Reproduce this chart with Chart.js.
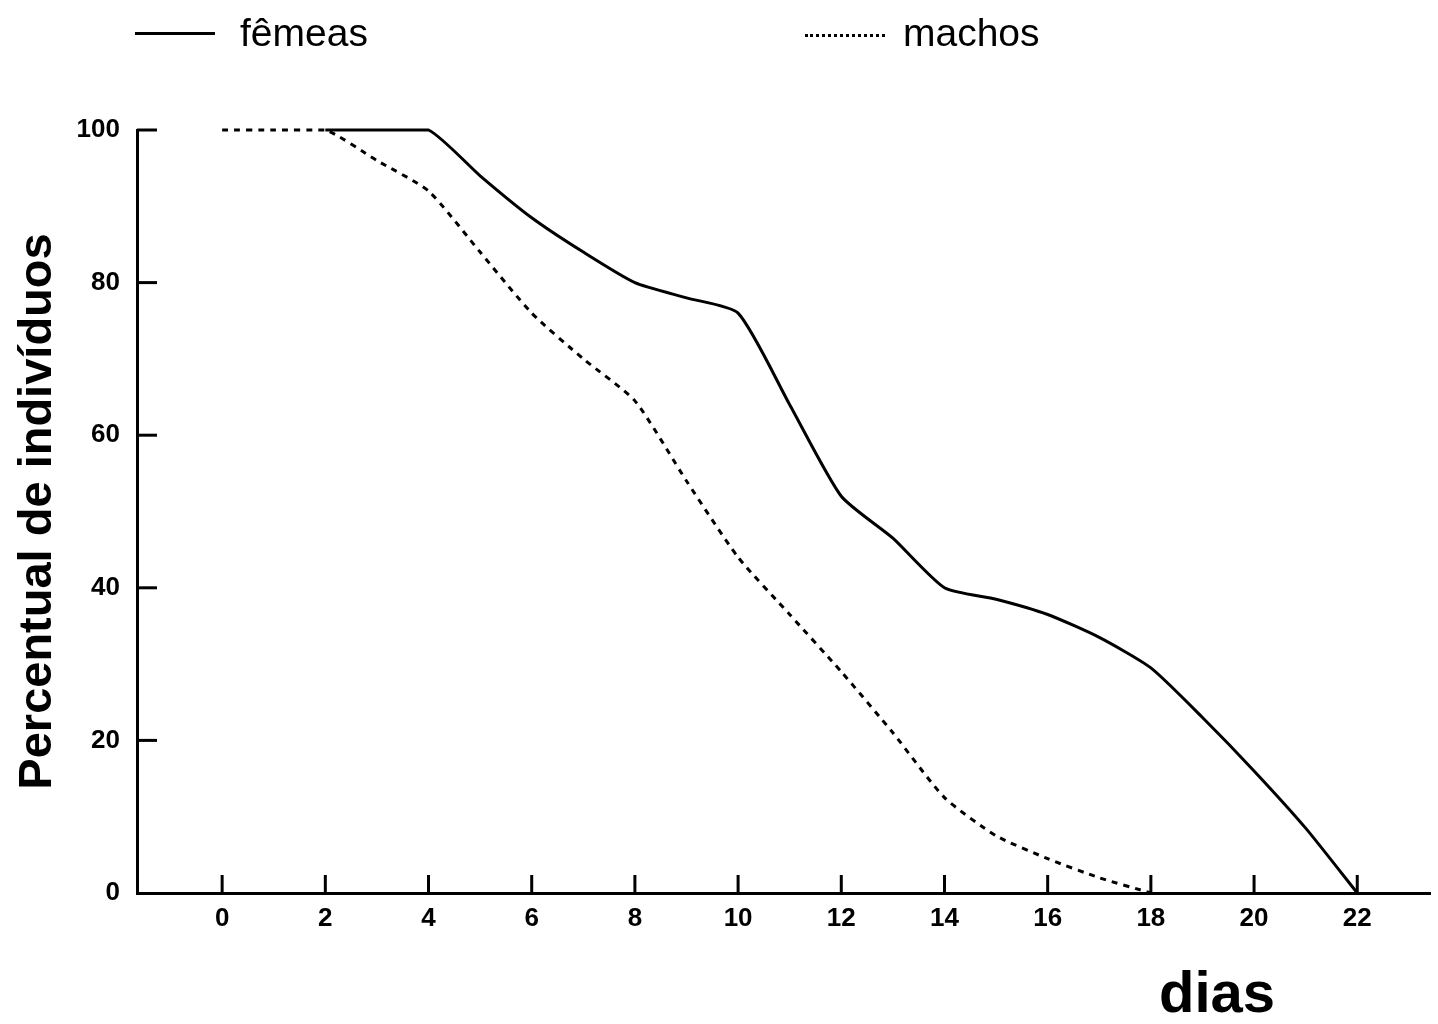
<!DOCTYPE html>
<html>
<head>
<meta charset="utf-8">
<title>Percentual de indivíduos</title>
<script src="https://cdn.jsdelivr.net/npm/chart.js"></script>
<style>
    body { margin: 0; background: #fff; }
    #wrap { position: relative; width: 1438px; height: 1024px; }
    #grafico { position: absolute; left: 0; top: 0; }
    .txt { position: absolute; font: 39px "Liberation Sans", Arial, sans-serif; line-height: 39px; color: #000; white-space: nowrap; }
    .linha { position: absolute; width: 80px; height: 0; }
    #dias { position: absolute; left: 1159px; top: 963px; font: bold 58px "Liberation Sans", Arial, sans-serif; line-height: 58px; }
</style>
</head>
<body>
<div id="wrap">
    <canvas id="grafico" width="1438" height="1024"></canvas>
    <div class="linha" style="left:135px;top:32px;border-top:3px solid #000;"></div>
    <div class="txt" style="left:240px;top:13px;">fêmeas</div>
    <div class="linha" style="left:805px;top:34px;border-top:3px dotted #000;"></div>
    <div class="txt" style="left:903px;top:13px;">machos</div>
    <div id="dias">dias</div>
</div>
<script>
    // dias de observação
    const dias = [0, 1, 2, 3, 4, 5, 6, 7, 8, 9, 10, 11, 12, 13, 14, 15, 16, 17, 18, 19, 20, 21, 22];
    // percentual de indivíduos vivos
    const femeas = [null, null, 100, 100, 100, 94, 88.5, 84, 80, 78, 76, 64, 52, 46.5, 40, 38.5, 36.5, 33.5, 29.5, 23, 16, 8.5, 0];
    const machos = [100, 100, 100, 96, 92, 84, 76, 70, 64.5, 54, 44, 36.5, 29, 21, 12.5, 7.5, 4.5, 2, 0, null, null, null, null];
    const xTicks = [0, 2, 4, 6, 8, 10, 12, 14, 16, 18, 20, 22];
    const yTicks = [0, 20, 40, 60, 80, 100];

    //marcas dos eixos para dentro do grafico
    const marcas = {
        id: 'marcas',
        afterDatasetsDraw(chart) {
            const { ctx, scales: { x, y } } = chart;
            ctx.save();
            ctx.strokeStyle = '#000';
            ctx.lineWidth = 3;
            x.ticks.forEach(t => {
                const px = x.getPixelForValue(t.value);
                ctx.beginPath();
                ctx.moveTo(px, x.top);
                ctx.lineTo(px, x.top - 18);
                ctx.stroke();
            });
            y.ticks.forEach(t => {
                if (t.value === 0) return;
                const py = y.getPixelForValue(t.value);
                ctx.beginPath();
                ctx.moveTo(y.right, py);
                ctx.lineTo(y.right + 20, py);
                ctx.stroke();
            });
            ctx.restore();
        }
    };

    const fonteTick = { family: '"Liberation Sans", Arial, sans-serif', size: 26, weight: 'bold' };

    new Chart(document.getElementById('grafico'), {
        type: 'line',
        data: {
            datasets: [{
                label: 'fêmeas',
                data: femeas.map((v, i) => ({ x: dias[i], y: v })),
                borderColor: '#000',
                borderWidth: 3,
                pointRadius: 0,
                tension: 0.2,
                clip: false
            }, {
                label: 'machos',
                data: machos.map((v, i) => ({ x: dias[i], y: v })),
                borderColor: '#000',
                borderWidth: 3,
                borderDash: [6, 6],
                pointRadius: 0,
                tension: 0.2,
                clip: false
            }]
        },
        options: {
            responsive: false,
            animation: false,
            layout: { padding: { top: 130, right: 8, bottom: 81, left: 0 } },
            plugins: {
                legend: { display: false },
                tooltip: { enabled: false }
            },
            scales: {
                x: {
                    type: 'linear',
                    min: -1.65,
                    max: 23.41,
                    afterBuildTicks: s => { s.ticks = xTicks.map(v => ({ value: v })); },
                    afterFit: s => { s.height = 50; },
                    grid: { display: false },
                    border: { display: true, color: '#000', width: 3 },
                    ticks: { color: '#000', font: fonteTick, padding: 2, maxRotation: 0, autoSkip: false }
                },
                y: {
                    min: 0,
                    max: 100,
                    afterBuildTicks: s => { s.ticks = yTicks.map(v => ({ value: v })); },
                    afterFit: s => { s.width = 137; },
                    grid: { display: false },
                    border: { display: true, color: '#000', width: 3 },
                    ticks: { color: '#000', font: fonteTick, padding: 9 },
                    title: {
                        display: true,
                        text: 'Percentual de indivíduos',
                        color: '#000',
                        font: { family: '"Liberation Sans", Arial, sans-serif', size: 47, weight: 'bold' },
                        padding: { top: 10, bottom: 0 }
                    }
                }
            }
        },
        plugins: [marcas]
    });
</script>
</body>
</html>
